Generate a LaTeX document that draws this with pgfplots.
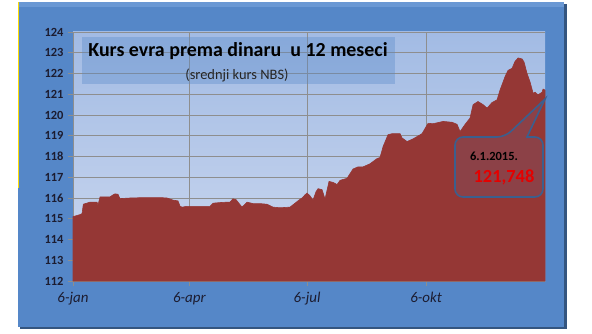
\documentclass[border=0pt]{standalone}
\usepackage{pgfplots}
\pgfplotsset{compat=1.18}
\usepackage{fontspec}
\setmainfont{Carlito}
\definecolor{frameblue}{HTML}{5587C8}
\definecolor{frametop}{HTML}{6A98D4}
\definecolor{framedark}{HTML}{34557F}
\definecolor{bgtop}{HTML}{A2BBE4}
\definecolor{bgbot}{HTML}{CCD8EF}
\definecolor{areared}{HTML}{953735}
\definecolor{gridgray}{HTML}{8E8E8E}
\definecolor{tickcol}{HTML}{1C1C30}
\begin{document}
\begin{tikzpicture}[x=1bp,y=1bp]
\useasboundingbox (0,0) rectangle (592,333);
\fill[white] (0,0) rectangle (592,333);
% frame with shadow
\fill[framedark] (20,4) rectangle (567,329);
\fill[frameblue] (18,6) rectangle (564,331);
\fill[frametop] (18,326) rectangle (564,331);
\draw[yellow!80!orange, line width=1bp] (18.5,145) -- (18.5,331);
\coordinate (plotSW) at (73,52);
\begin{axis}[
  at={(plotSW)}, anchor=south west,
  scale only axis, width=472bp, height=249bp,
  xmin=0, xmax=365, ymin=112, ymax=124,
  axis background/.style={top color=bgtop, bottom color=bgbot},
  axis x line*=bottom, axis y line*=left,
  axis line style={gridgray, line width=0.8pt},
  xtick={0,90,181,273},
  xticklabels={6-jan,6-apr,6-jul,6-okt},
  ytick={112,113,...,124},
  grid=major,
  major grid style={gridgray, line width=0.9pt},
  tick align=outside, major tick length=5bp,
  tick style={gridgray, line width=0.8pt},
  /pgf/number format/assume math mode=true,
  yticklabel style={font=\fontsize{12.5}{13}\selectfont\bfseries, text=tickcol, xshift=-1bp},
  xticklabel style={font=\fontsize{15}{16}\selectfont\itshape, text=tickcol, yshift=-3bp},
  clip=false,
]
\addplot[fill=areared, draw=areared, line width=0.6pt] coordinates {
(0,115.1) (5.4,115.2) (7,115.25) (8,115.7) (13.1,115.8) (18.6,115.8) (19.3,115.65)
(20.9,116.05) (26.3,116.05) (28.6,116.05) (30.9,116.15) (32.5,116.2) (34.8,116.18)
(36.3,115.97) (44.1,116.0) (55.7,116.02) (67.3,116.02) (72.7,116.0) (77.3,115.9)
(81.2,115.86) (82.8,115.6) (84.3,115.56) (88.2,115.6) (94.4,115.6) (106,115.6)
(108.3,115.75) (113.7,115.78) (119.1,115.8) (121.4,115.8) (123.7,115.96) (126.1,115.92)
(127.6,115.8) (130.7,115.56) (134.6,115.8) (139.2,115.73) (144.6,115.73) (150,115.7)
(154.7,115.56) (160.1,115.53) (167.8,115.56) (171.7,115.75) (175.6,115.94) (177.1,116.0)
(179.4,116.15) (181,116.24) (183.3,116.1) (185.6,115.9) (187.9,116.3) (189.5,116.45)
(192.6,116.4) (194.9,115.95) (198,116.8) (201.1,116.75) (204.2,116.65) (206.5,116.85)
(211.9,116.95) (216.6,117.4) (220.4,117.5) (224.3,117.5) (229.7,117.65) (235.1,117.9)
(237.4,117.95) (239.8,118.48) (243.6,119.05) (246.7,119.1) (252.9,119.1) (254.4,118.9)
(258.3,118.72) (263,118.85) (269.9,119.1) (274.6,119.6) (278.4,119.58) (286.2,119.69)
(293.1,119.65) (297,119.55) (299.3,119.2) (303.2,119.55) (307,119.85) (309.4,120.5)
(313.2,120.65) (317.1,120.5) (320.2,120.33) (324,120.6) (327.9,120.73) (330.2,121.2)
(334.1,121.85) (336.4,122.15) (339.5,122.25) (341.8,122.58) (344.2,122.75) (347.3,122.7)
(348.8,122.55) (351.1,122.0) (353.4,121.6) (355.8,121.05) (357.3,121.1) (359.6,120.97)
(362.7,121.1) (363.5,121.25) (365,121.2)
} \closedcycle;
\end{axis}
% title box
\fill[frameblue, opacity=0.35] (82,249) rectangle (395,296);
\node[font=\fontsize{20}{21}\selectfont\bfseries, text=black] at (238,282) {Kurs evra prema dinaru\ \ u 12 meseci};
\node[font=\fontsize{14.5}{15}\selectfont, text=black!85] at (237,258) {(srednji kurs NBS)};
% callout
\draw[line width=1.6bp, draw=framedark!80!frameblue, fill=areared!85!frameblue, fill opacity=0.85, rounded corners=8bp]
  (455,196) -- (505,196) [sharp corners] -- (545,234) -- (527,196) [rounded corners=8bp] -- (543,196) -- (543,136) -- (455,136) -- cycle;
\node[font=\fontsize{12.5}{13}\selectfont\bfseries, text=black] at (494,177) {6.1.2015.};
\node[font=\fontsize{18.5}{19}\selectfont\bfseries, text=red!90!black] at (504,156) {121,748};
\end{tikzpicture}
\end{document}
